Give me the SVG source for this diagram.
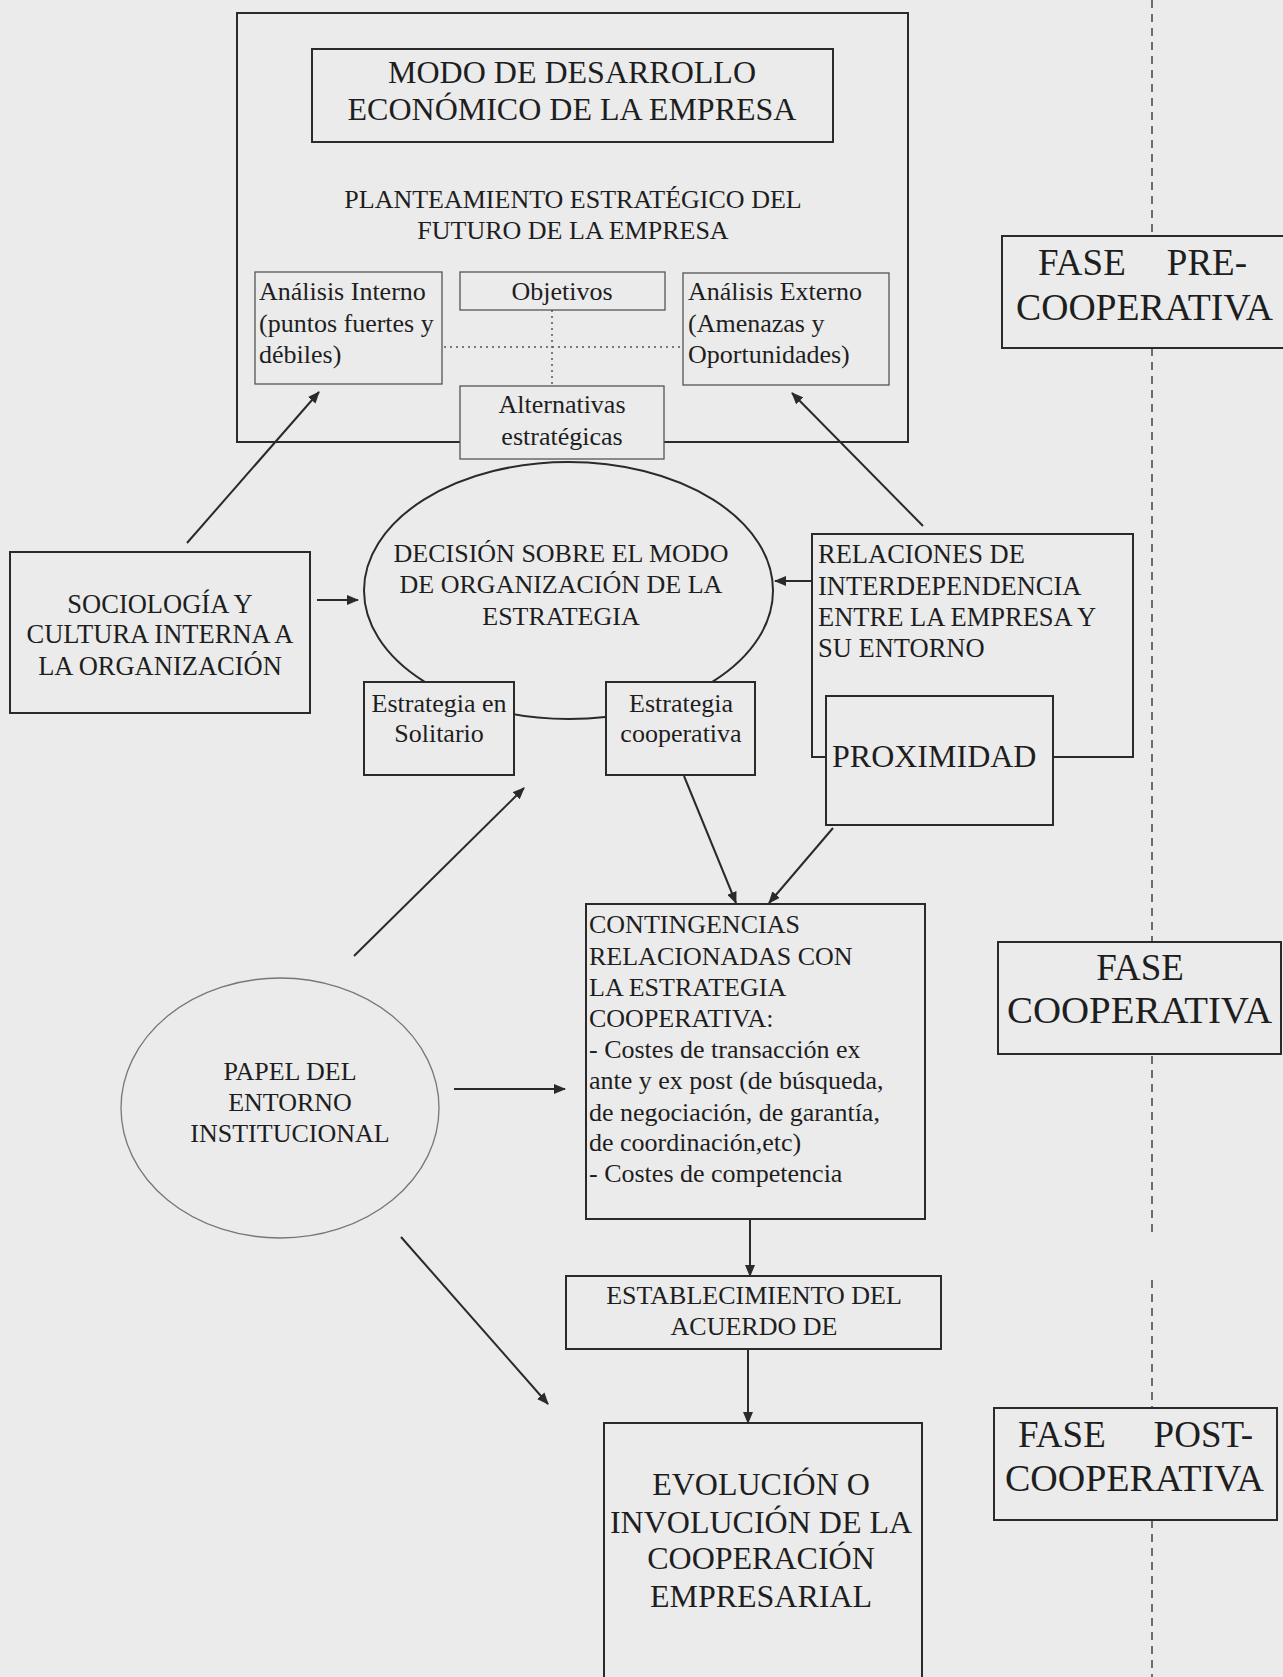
<svg xmlns="http://www.w3.org/2000/svg" width="1283" height="1677" viewBox="0 0 1283 1677">
<defs>
<style>
.t{font-family:"Liberation Serif","Times New Roman",serif;fill:#1e1e1e;}
.f26{font-size:26px;}
.f32{font-size:32px;}
.f37{font-size:37px;}
.c{text-anchor:middle;}
.e{text-anchor:end;}
.box{fill:#ebebeb;stroke:#2a2a2a;stroke-width:2;}
.thin{fill:#ebebeb;stroke:#555;stroke-width:1.3;}
.con{stroke:#2a2a2a;stroke-width:2;fill:none;marker-end:url(#ah);}
.dot{stroke:#555;stroke-width:1.5;stroke-dasharray:2 4;fill:none;}
.dash{stroke:#444;stroke-width:1.5;stroke-dasharray:8 6;fill:none;}
</style>
<marker id="ah" markerUnits="userSpaceOnUse" markerWidth="12" markerHeight="10" refX="11" refY="5" orient="auto">
<path d="M0,0 L12,5 L0,10 z" fill="#2a2a2a"/>
</marker>
</defs>
<rect x="0" y="0" width="1283" height="1677" fill="#ebebeb"/>

<g id="phase-divider">
<line class="dash" x1="1152" y1="0" x2="1152" y2="236"/>
<line class="dash" x1="1152" y1="348" x2="1152" y2="941"/>
<line class="dash" x1="1152" y1="1056" x2="1152" y2="1235"/>
<line class="dash" x1="1152" y1="1280" x2="1152" y2="1408"/>
<line class="dash" x1="1152" y1="1520" x2="1152" y2="1677"/>
</g>

<g id="planteamiento">
<rect class="box" x="237" y="13" width="671" height="429"/>
<text class="t f26 c" x="573" y="208">PLANTEAMIENTO ESTRATÉGICO DEL</text>
<text class="t f26 c" x="573" y="239">FUTURO DE LA EMPRESA</text>
</g>

<g id="modo-desarrollo">
<rect class="box" x="312" y="49" width="521" height="93"/>
<text class="t f32 c" x="572" y="83">MODO DE DESARROLLO</text>
<text class="t f32 c" x="572" y="120">ECONÓMICO DE LA EMPRESA</text>
</g>

<g id="dotted-links">
<line class="dot" x1="444" y1="347" x2="682" y2="347"/>
<line class="dot" x1="552" y1="310" x2="552" y2="386"/>
</g>

<g id="analisis-interno">
<rect class="thin" x="255" y="272" width="187" height="112"/>
<text class="t f26" x="259" y="300">Análisis Interno</text>
<text class="t f26" x="259" y="332">(puntos fuertes y</text>
<text class="t f26" x="259" y="363">débiles)</text>
</g>

<g id="objetivos">
<rect class="thin" x="460" y="272" width="205" height="38"/>
<text class="t f26 c" x="562" y="300">Objetivos</text>
</g>

<g id="analisis-externo">
<rect class="thin" x="683" y="273" width="206" height="112"/>
<text class="t f26" x="688" y="300">Análisis Externo</text>
<text class="t f26" x="688" y="332">(Amenazas y</text>
<text class="t f26" x="688" y="363">Oportunidades)</text>
</g>

<g id="alternativas">
<rect class="thin" x="460" y="386" width="204" height="73"/>
<text class="t f26 c" x="562" y="413">Alternativas</text>
<text class="t f26 c" x="562" y="445">estratégicas</text>
</g>

<g id="decision">
<ellipse cx="568.5" cy="590.5" rx="204.5" ry="128.5" fill="none" stroke="#2a2a2a" stroke-width="2"/>
<text class="t f26 c" x="561" y="562">DECISIÓN SOBRE EL MODO</text>
<text class="t f26 c" x="561" y="593">DE ORGANIZACIÓN DE LA</text>
<text class="t f26 c" x="561" y="625">ESTRATEGIA</text>
</g>

<g id="estrategia-solitario">
<rect class="box" x="364" y="682" width="150" height="93"/>
<text class="t f26 c" x="439" y="712">Estrategia en</text>
<text class="t f26 c" x="439" y="742">Solitario</text>
</g>

<g id="estrategia-cooperativa">
<rect class="box" x="606" y="682" width="149" height="93"/>
<text class="t f26 c" x="681" y="712">Estrategia</text>
<text class="t f26 c" x="681" y="742">cooperativa</text>
</g>

<g id="sociologia">
<rect class="box" x="10" y="552" width="300" height="161"/>
<text class="t c" style="font-size:26.5px" x="160" y="613">SOCIOLOGÍA Y</text>
<text class="t c" style="font-size:26.5px" x="160" y="643">CULTURA INTERNA A</text>
<text class="t c" style="font-size:26.5px" x="160" y="675">LA ORGANIZACIÓN</text>
</g>

<g id="relaciones">
<rect class="box" x="812" y="534" width="321" height="223"/>
<text class="t" style="font-size:26.5px" x="818" y="563">RELACIONES DE</text>
<text class="t" style="font-size:26.5px" x="818" y="595">INTERDEPENDENCIA</text>
<text class="t" style="font-size:26.5px" x="818" y="626">ENTRE LA EMPRESA Y</text>
<text class="t" style="font-size:26.5px" x="818" y="657">SU ENTORNO</text>
</g>

<g id="proximidad">
<rect class="box" x="826" y="696" width="227" height="129"/>
<text class="t f32" x="832" y="767">PROXIMIDAD</text>
</g>

<g id="contingencias">
<rect class="box" x="586" y="904" width="339" height="315"/>
<text class="t f26" x="589" y="933">CONTINGENCIAS</text>
<text class="t f26" x="589" y="965">RELACIONADAS CON</text>
<text class="t f26" x="589" y="996">LA ESTRATEGIA</text>
<text class="t f26" x="589" y="1027">COOPERATIVA:</text>
<text class="t f26" x="589" y="1058">- Costes de transacción ex</text>
<text class="t f26" x="589" y="1089">ante y ex post (de búsqueda,</text>
<text class="t f26" x="589" y="1121">de negociación, de garantía,</text>
<text class="t f26" x="589" y="1151">de coordinación,etc)</text>
<text class="t f26" x="589" y="1182">- Costes de competencia</text>
</g>

<g id="papel-entorno">
<ellipse cx="280" cy="1108" rx="159" ry="130" fill="none" stroke="#777" stroke-width="1.3"/>
<text class="t f26 c" x="290" y="1080">PAPEL DEL</text>
<text class="t f26 c" x="290" y="1111">ENTORNO</text>
<text class="t f26 c" x="290" y="1142">INSTITUCIONAL</text>
</g>

<g id="establecimiento">
<rect class="box" x="566" y="1276" width="375" height="73"/>
<text class="t f26 c" x="754" y="1304">ESTABLECIMIENTO DEL</text>
<text class="t f26 c" x="754" y="1335">ACUERDO DE</text>
</g>

<g id="evolucion">
<rect class="box" x="604" y="1423" width="318" height="270"/>
<text class="t f32 c" x="761" y="1495">EVOLUCIÓN O</text>
<text class="t f32 c" x="761" y="1533">INVOLUCIÓN DE LA</text>
<text class="t f32 c" x="761" y="1569">COOPERACIÓN</text>
<text class="t f32 c" x="761" y="1607">EMPRESARIAL</text>
</g>

<g id="fase-pre">
<rect class="box" x="1002" y="236" width="290" height="112"/>
<text class="t f37" x="1038" y="275">FASE</text>
<text class="t f37 e" x="1247" y="275">PRE-</text>
<text class="t f37" x="1016" y="320" textLength="257" lengthAdjust="spacingAndGlyphs">COOPERATIVA</text>
</g>

<g id="fase-cooperativa">
<rect class="box" x="998" y="942" width="283" height="112"/>
<text class="t f37 c" x="1140" y="980">FASE</text>
<text class="t f37" x="1007" y="1023" textLength="265" lengthAdjust="spacingAndGlyphs">COOPERATIVA</text>
</g>

<g id="fase-post">
<rect class="box" x="994" y="1408" width="283" height="112"/>
<text class="t f37" x="1018" y="1447">FASE</text>
<text class="t f37 e" x="1253" y="1447">POST-</text>
<text class="t f37" x="1005" y="1491" textLength="259" lengthAdjust="spacingAndGlyphs">COOPERATIVA</text>
</g>

<g id="connectors">
<line class="con" x1="187" y1="543" x2="319" y2="392"/>
<line class="con" x1="923" y1="526" x2="792" y2="393"/>
<line class="con" x1="317" y1="600" x2="358" y2="600"/>
<line class="con" x1="812" y1="581" x2="775" y2="581"/>
<line class="con" x1="354" y1="956" x2="524" y2="788"/>
<line class="con" x1="684" y1="776" x2="736" y2="903"/>
<line class="con" x1="833" y1="828" x2="769" y2="903"/>
<line class="con" x1="454" y1="1089" x2="565" y2="1089"/>
<line class="con" x1="750" y1="1219" x2="750" y2="1276"/>
<line class="con" x1="748" y1="1349" x2="748" y2="1423"/>
<line class="con" x1="401" y1="1237" x2="548" y2="1404"/>
</g>
</svg>
